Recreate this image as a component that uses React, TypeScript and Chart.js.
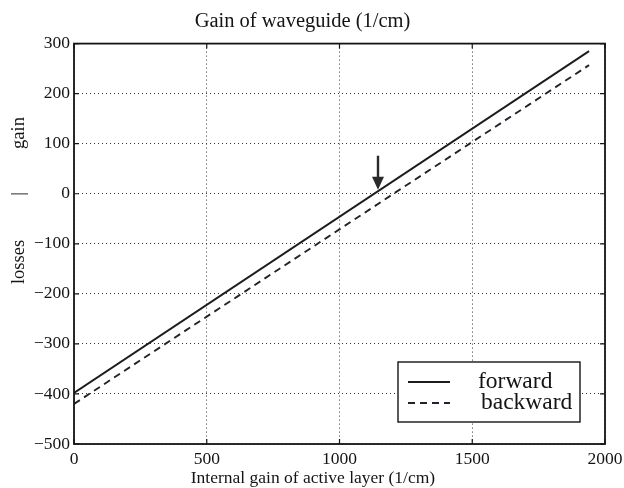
import React, { useEffect, useRef } from "react";
import { Chart, registerables } from "chart.js";

Chart.register(...registerables);

// Internal gain of the active layer (1/cm) at the two ends of each trace
const gainX = [0, 1940];
// Waveguide gain (1/cm) for each propagation direction
const forwardGain = [-398, 285];
const backwardGain = [-420, 257];

// Axis ranges and tick steps
const xTicks = [0, 500, 1000, 1500, 2000];
const yTicks = [-500, -400, -300, -200, -100, 0, 100, 200, 300];

// Marker arrow: x position and y extent (tail, tip)
const arrowX = 1145;
const arrowY = [76, 8];

const seriesNames = ["forward", "backward"];
const xAxisTitle = "Internal gain of active layer (1/cm)";

const FONT = "'Liberation Serif', 'Times New Roman', serif";
const INK = "#141414";

const framePlugin = {
  id: "frame",
  afterDatasetsDraw(chart: any) {
    const { ctx, chartArea: a, scales } = chart;
    ctx.save();
    // inward tick marks on all four sides
    ctx.strokeStyle = INK;
    ctx.lineWidth = 1.2;
    const tl = 5;
    ctx.beginPath();
    xTicks.forEach((v) => {
      const px = scales.x.getPixelForValue(v);
      ctx.moveTo(px, a.bottom);
      ctx.lineTo(px, a.bottom - tl);
      ctx.moveTo(px, a.top);
      ctx.lineTo(px, a.top + tl);
    });
    yTicks.forEach((v) => {
      const py = scales.y.getPixelForValue(v);
      ctx.moveTo(a.left, py);
      ctx.lineTo(a.left + tl, py);
      ctx.moveTo(a.right, py);
      ctx.lineTo(a.right - tl, py);
    });
    ctx.stroke();
    // plot box
    ctx.lineWidth = 1.8;
    ctx.strokeRect(a.left, a.top, a.right - a.left, a.bottom - a.top);

    // marker arrow
    const ax = scales.x.getPixelForValue(arrowX);
    const y0 = scales.y.getPixelForValue(arrowY[0]);
    const y1 = scales.y.getPixelForValue(arrowY[1]);
    ctx.fillStyle = "#2a2a2a";
    ctx.strokeStyle = "#2a2a2a";
    ctx.lineWidth = 2.4;
    ctx.beginPath();
    ctx.moveTo(ax, y0);
    ctx.lineTo(ax, y1 - 10);
    ctx.stroke();
    ctx.beginPath();
    ctx.moveTo(ax - 6, y1 - 13);
    ctx.lineTo(ax + 6, y1 - 13);
    ctx.lineTo(ax, y1);
    ctx.closePath();
    ctx.fill();

    // legend box
    const bx = a.right - 207;
    const by = a.bottom - 82;
    const bw = 182;
    const bh = 60;
    ctx.fillStyle = "#ffffff";
    ctx.fillRect(bx, by, bw, bh);
    ctx.strokeStyle = INK;
    ctx.lineWidth = 1.4;
    ctx.strokeRect(bx, by, bw, bh);
    const rows = [by + 20, by + 41];
    chart.data.datasets.forEach((ds: any, i: number) => {
      ctx.strokeStyle = ds.borderColor;
      ctx.lineWidth = ds.borderWidth;
      ctx.setLineDash(ds.borderDash || []);
      ctx.beginPath();
      ctx.moveTo(bx + 10, rows[i]);
      ctx.lineTo(bx + 52, rows[i]);
      ctx.stroke();
      ctx.setLineDash([]);
      ctx.fillStyle = INK;
      ctx.font = `23.5px ${FONT}`;
      ctx.textBaseline = "middle";
      ctx.textAlign = "left";
      ctx.fillText(ds.label, bx + 80 + i * 3, rows[i]);
    });
    ctx.restore();
  },
  afterDraw(chart: any) {
    const { ctx, scales } = chart;
    ctx.save();
    ctx.fillStyle = INK;
    ctx.textBaseline = "middle";

    // x-axis title, starting under the 500 tick
    ctx.font = `17.5px ${FONT}`;
    ctx.textAlign = "left";
    const x500 = scales.x.getPixelForValue(xTicks[1]);
    ctx.fillText(xAxisTitle, x500 - 16, 478);

    // y-axis label: losses | gain
    ctx.font = `18.5px ${FONT}`;
    ctx.textAlign = "center";
    const parts: [string, number][] = [
      ["gain", 133],
      ["|", 194],
      ["losses", 262],
    ];
    parts.forEach(([t, y]) => {
      ctx.save();
      ctx.translate(19, y);
      ctx.rotate(-Math.PI / 2);
      ctx.fillText(t, 0, 0);
      ctx.restore();
    });
    ctx.restore();
  },
};

export default function App() {
  const ref = useRef<HTMLCanvasElement | null>(null);

  useEffect(() => {
    if (!ref.current) return;
    const chart = new Chart(ref.current, {
      type: "line",
      data: {
        datasets: [
          {
            label: seriesNames[0],
            data: gainX.map((x, i) => ({ x, y: forwardGain[i] })),
            borderColor: "#1c1c1c",
            borderWidth: 1.9,
            pointRadius: 0,
            fill: false,
          },
          {
            label: seriesNames[1],
            data: gainX.map((x, i) => ({ x, y: backwardGain[i] })),
            borderColor: "#22222c",
            borderWidth: 1.9,
            borderDash: [7, 5],
            pointRadius: 0,
            fill: false,
          },
        ],
      },
      options: {
        responsive: false,
        animation: false,
        layout: { padding: { left: 0, right: 19, top: 0, bottom: 18 } },
        plugins: {
          legend: { display: false },
          tooltip: { enabled: false },
          title: {
            display: true,
            text: "Gain of waveguide (1/cm)",
            color: INK,
            font: { family: FONT, size: 20.5, weight: "normal" },
            padding: { top: 9, bottom: 10 },
          },
        },
        scales: {
          x: {
            type: "linear",
            min: xTicks[0],
            max: xTicks[xTicks.length - 1],
            afterBuildTicks: (s: any) => {
              s.ticks = xTicks.map((v) => ({ value: v }));
            },
            afterFit: (s: any) => {
              s.height = 26;
              s.paddingLeft = 0;
              s.paddingRight = 0;
            },
            ticks: {
              color: INK,
              font: { family: FONT, size: 17.5 },
              padding: 5,
              maxRotation: 0,
              callback: (v: any) => String(v),
            },
            grid: { color: "#333", lineWidth: 1, drawTicks: false },
            border: { display: false, dash: [1, 3] },
          },
          y: {
            type: "linear",
            min: yTicks[0],
            max: yTicks[yTicks.length - 1],
            afterBuildTicks: (s: any) => {
              s.ticks = yTicks.map((v) => ({ value: v }));
            },
            afterFit: (s: any) => {
              s.width = 74;
            },
            ticks: {
              color: INK,
              font: { family: FONT, size: 17.5 },
              padding: 4,
              callback: (v: any) => String(v).replace("-", "\u2212"),
            },
            grid: { color: "#333", lineWidth: 1, drawTicks: false },
            border: { display: false, dash: [1, 3] },
          },
        },
      },
      plugins: [framePlugin],
    } as any);
    return () => chart.destroy();
  }, []);

  return (
    <div style={{ position: "fixed", left: 0, top: 0, width: 624, height: 488, background: "#fff" }}>
      <canvas ref={ref} width={624} height={488} />
    </div>
  );
}
